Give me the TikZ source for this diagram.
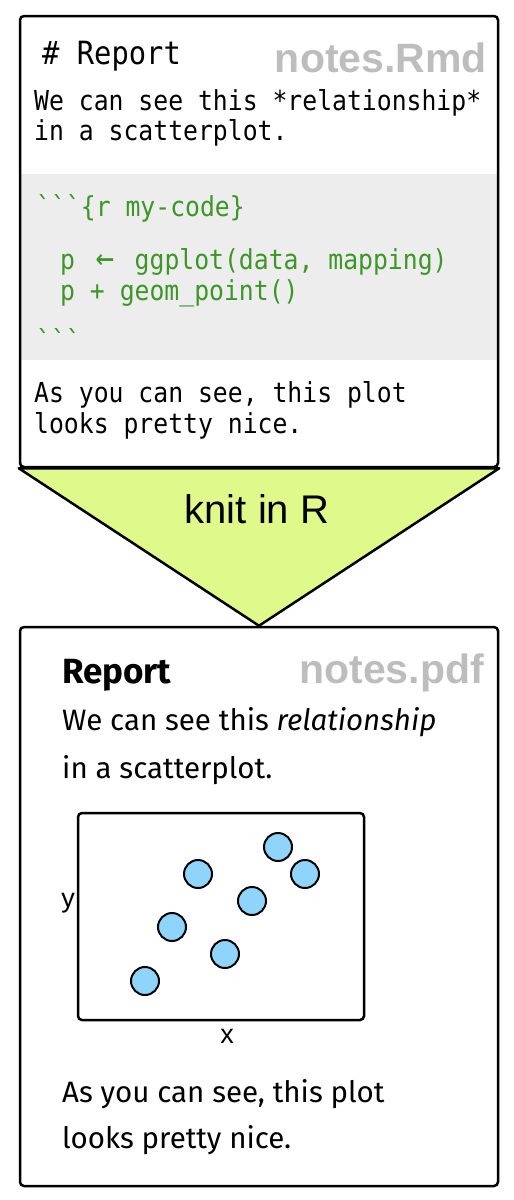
\documentclass[tikz,border=0pt]{standalone}
\usepackage{fontspec}
\setsansfont{Fira Sans}
\setmonofont{DejaVu Sans Mono}[FakeStretch=0.9]
\newfontfamily\arialfont{Liberation Sans}
\usepackage{xcolor}
\definecolor{filegray}{HTML}{BDBDBD}
\definecolor{codegreen}{HTML}{3C9628}
\definecolor{chunkgray}{HTML}{EDEDED}
\definecolor{knitgreen}{HTML}{DFF98A}
\definecolor{pointblue}{HTML}{8FD4FA}

\tikzset{
  docbox/.style={draw, line width=2.5pt, rounded corners=4pt, inner sep=0pt},
  mdtext/.style={anchor=base west, inner sep=0pt, font=\ttfamily\fontsize{27.5}{30}\selectfont},
  codetext/.style={mdtext, text=codegreen},
  pdftext/.style={anchor=base west, inner sep=0pt, font=\sffamily\fontsize{29.5}{34}\selectfont},
  filename/.style={anchor=base east, inner sep=0pt, text=filegray, font=\arialfont\bfseries\fontsize{41}{44}\selectfont},
  dot/.style={circle, draw, line width=2pt, fill=pointblue, minimum size=28pt, inner sep=0pt},
  axislabel/.style={inner sep=0pt, font=\arialfont\fontsize{27}{28}\selectfont}
}
\newcommand{\assignarrow}{\makebox[29.8pt][c]{\scalebox{1.25}{←}}}

\begin{document}
\begin{tikzpicture}[x=1pt,y=1pt,yscale=-1,xscale=1]
\useasboundingbox (0,0) rectangle (514,1200);

% code chunk background
\fill[chunkgray] (21,174) rectangle (497,360);

% the two documents
\node[docbox, minimum width=478pt, minimum height=451pt] (rmd) at (259,241.5) {};
\node[docbox, minimum width=478pt, minimum height=559pt] (pdf) at (259,906.5) {};

% knit funnel
\draw[line width=2.5pt, line join=round, fill=knitgreen] (rmd.south west) -- (rmd.south east) -- (pdf.north) -- cycle;
\node[inner sep=0pt, anchor=base, font=\arialfont\fontsize{40}{42}\selectfont] (knit) at (257,523) {knit in R};

% notes.Rmd
\node[mdtext, font=\ttfamily\fontsize{32}{34}\selectfont] (rmdhead) at (42,64) {\# Report};
\node[filename] (rmdname) at (487,72) {notes.Rmd};
\node[mdtext] (rmdlineA) at (34,110) {We can see this *relationship*};
\node[mdtext] (rmdlineB) at (34,140) {in a scatterplot.};
\node[codetext] (chunkopen) at (36,216) {```\{r my-code\}};
\node[codetext] (codeA) at (60,269) {p \assignarrow{} ggplot(data, mapping)};
\node[codetext] (codeB) at (60,300) {p + geom\_point()};
\node[codetext] (chunkclose) at (36,350) {```};
\node[mdtext] (rmdlineC) at (34,402) {As you can see, this plot};
\node[mdtext] (rmdlineD) at (34,433) {looks pretty nice.};

% notes.pdf
\node[pdftext, font=\sffamily\bfseries\fontsize{35}{36}\selectfont] (pdfhead) at (62,683) {Report};
\node[filename] (pdfname) at (484,683) {notes.pdf};
\node[pdftext] (pdflineA) at (62,730) {We can see this \textit{relationship}};
\node[pdftext] (pdflineB) at (62,778) {in a scatterplot.};
\node[pdftext] (pdflineC) at (62,1102) {As you can see, this plot};
\node[pdftext] (pdflineD) at (62,1148) {looks pretty nice.};

% scatterplot
\node[docbox, minimum width=286pt, minimum height=207pt] (plot) at (221,916.5) {};
\node[axislabel, anchor=base east] (ylab) at (75,907) {y};
\node[axislabel, anchor=base] (xlab) at (227,1043) {x};
\foreach \px/\py [count=\i] in {278/847, 198/874, 305/874, 252/901, 172/927, 225/954, 145/981}
  \node[dot] (pt\i) at (\px,\py) {};

\end{tikzpicture}
\end{document}
